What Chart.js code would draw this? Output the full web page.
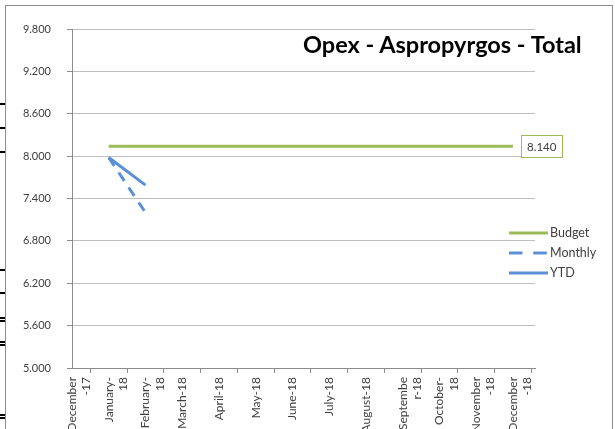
<!DOCTYPE html>
<html>
<head>
<meta charset="utf-8">
<script src="https://cdn.jsdelivr.net/npm/chart.js@4.4.1/dist/chart.umd.min.js"></script>
<style>
  html, body { margin: 0; padding: 0; background: #fff; }
  #wrap { position: relative; width: 615px; height: 429px; overflow: hidden; }
  #frame { position: absolute; left: 5px; top: 5px; width: 606px; height: 440px; border: 1px solid #8c8c8c; }
  #title { position: absolute; left: 303px; top: 30px; font: bold 23.5px Lato, sans-serif; color: #000; white-space: nowrap; }
  canvas { position: absolute; left: 0; top: 0; }
  .mark { position: absolute; left: 0; width: 5px; height: 2px; background: #000; }
</style>
</head>
<body>
<div id="wrap">
  <div id="frame"></div>
  <div class="mark" style="top:103px"></div>
  <div class="mark" style="top:127px"></div>
  <div class="mark" style="top:151px"></div>
  <div class="mark" style="top:269px"></div>
  <div class="mark" style="top:292px"></div>
  <div class="mark" style="top:317px"></div>
  <div class="mark" style="top:320px"></div>
  <div class="mark" style="top:341px"></div>
  <div class="mark" style="top:344px"></div>
  <div class="mark" style="top:414px"></div>
  <div class="mark" style="top:417px"></div>
  <canvas id="chart" width="615" height="429"></canvas>
  <div id="title">Opex - Aspropyrgos - Total</div>
</div>
<script>
// categories (Excel wraps the long names on two lines)
const months = [
  ['December', '-17'], ['January-', '18'], ['February-', '18'], 'March-18', 'April-18',
  'May-18', 'June-18', 'July-18', 'August-18', ['Septembe', 'r-18'], ['October-', '18'],
  ['November', '-18'], ['December', '-18']
];
const budget  = [null, 8140, 8140, 8140, 8140, 8140, 8140, 8140, 8140, 8140, 8140, 8140, 8140];
const monthly = [null, 7980, 7200, null, null, null, null, null, null, null, null, null, null];
const ytd     = [null, 7980, 7590, null, null, null, null, null, null, null, null, null, null];
const yTicks  = [5000, 5600, 6200, 6800, 7400, 8000, 8600, 9200, 9800];

const green = '#9bbb59';
const blue = '#5b8fd6';
const textColor = '#404040';
const gridColor = '#bfbfbf';
const axisColor = '#8c8c8c';

// greek style thousands separator
const fmt = v => String(v).replace(/\B(?=(\d{3})+(?!\d))/g, '.');
const toPoints = arr => arr.map((v, i) => ({ x: i, y: v }));

const extras = {
  id: 'extras',
  afterDraw(chart) {
    const ctx = chart.ctx;
    ctx.save();

    // value box on the last budget point
    const last = budget.length - 1;
    const pt = chart.getDatasetMeta(0).data[last];
    const txt = fmt(budget[last]);
    ctx.font = '11.5px Lato';
    const w = Math.round(ctx.measureText(txt).width + 12), h = 22;
    const bx = Math.round(pt.x + 8), by = Math.round(pt.y - h / 2);
    ctx.fillStyle = '#fff';
    ctx.fillRect(bx, by, w, h);
    ctx.strokeStyle = green;
    ctx.lineWidth = 1;
    ctx.strokeRect(bx + 0.5, by + 0.5, w, h);
    ctx.fillStyle = textColor;
    ctx.textBaseline = 'middle';
    ctx.fillText(txt, bx + 6, pt.y + 1);

    // legend (Excel draws the sample dashes a bit longer)
    chart.data.datasets.forEach((ds, i) => {
      const y = 233 + i * 20;
      ctx.beginPath();
      ctx.setLineDash((ds.borderDash || []).map(d => d * 1.35));
      ctx.strokeStyle = ds.borderColor;
      ctx.lineWidth = 3;
      ctx.moveTo(509, y);
      ctx.lineTo(548, y);
      ctx.stroke();
      ctx.setLineDash([]);
      ctx.fillStyle = textColor;
      ctx.font = '12.5px Lato';
      ctx.fillText(ds.label, 550, y);
    });
    ctx.restore();
  }
};

new Chart(document.getElementById('chart'), {
  type: 'line',
  data: {
    datasets: [
      { label: 'Budget', data: toPoints(budget), borderColor: green, borderWidth: 3, pointRadius: 0 },
      { label: 'Monthly', data: toPoints(monthly), borderColor: blue, borderWidth: 3, borderDash: [10, 8], pointRadius: 0 },
      { label: 'YTD', data: toPoints(ytd), borderColor: blue, borderWidth: 3, pointRadius: 0 }
    ]
  },
  options: {
    responsive: false,
    animation: false,
    layout: { padding: { top: 29, right: 80, bottom: 0, left: 0 } },
    plugins: { legend: { display: false }, tooltip: { enabled: false } },
    scales: {
      x: {
        type: 'linear', min: 0, max: 12.6, position: 'bottom', weight: 1,
        afterBuildTicks: s => { s.ticks = months.map((m, i) => ({ value: i })); },
        afterFit: s => { s.height = 56; },
        grid: { display: false, drawTicks: false },
        border: { display: false },
        ticks: {
          autoSkip: false, minRotation: 90, maxRotation: 90, padding: 4,
          color: textColor, font: { family: 'Lato', size: 12, lineHeight: 1.2 },
          callback: v => months[v]
        }
      },
      xMarks: {
        type: 'linear', min: 0, max: 12.6, position: 'bottom', weight: 0,
        afterBuildTicks: s => { s.ticks = months.map((m, i) => ({ value: i + 0.5 })); },
        afterFit: s => { s.height = 5; },
        grid: { drawOnChartArea: false, drawTicks: true, tickLength: 5, color: axisColor },
        border: { color: axisColor },
        ticks: { display: false }
      },
      y: {
        min: 5000, max: 9800,
        afterBuildTicks: s => { s.ticks = yTicks.map(v => ({ value: v })); },
        afterFit: s => { s.width = 72; },
        grid: { color: gridColor, tickColor: axisColor, tickLength: 5 },
        border: { color: axisColor },
        ticks: { padding: 16, color: textColor, font: { family: 'Lato', size: 11 }, callback: v => fmt(v) }
      }
    }
  },
  plugins: [extras]
});
</script>
</body>
</html>
